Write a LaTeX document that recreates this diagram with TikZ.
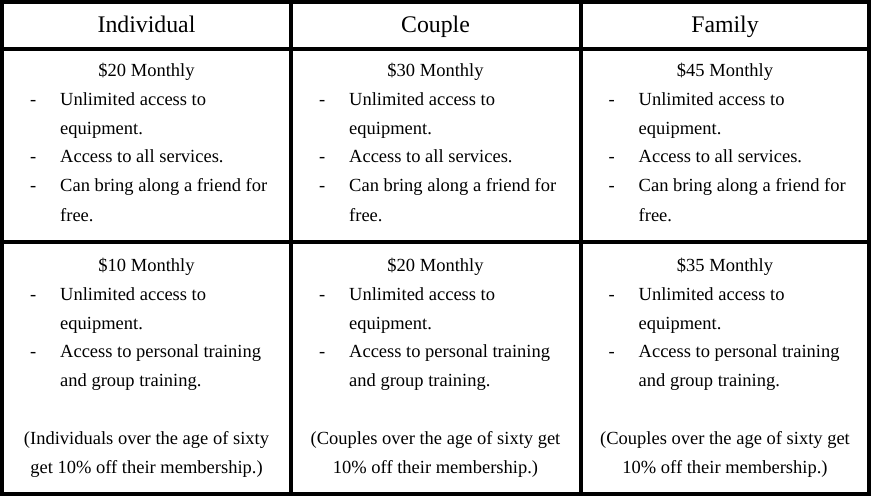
\documentclass[tikz,border=0pt]{standalone}
\usepackage{fontspec}
\setmainfont{Liberation Serif}
\newcommand\dashline[4]{%
  \node[bt, anchor=base west] (#1d) at ({#2+28},#3) {-};
  \node[bt, anchor=base west] (#1t) at ({#2+58},#3) {#4};}
\newcommand\plainline[4]{\node[bt, anchor=base west] (#1) at ({#2+58},#3) {#4};}
\newcommand\midline[4]{\node[bt, anchor=base] (#1) at ({#2+144.5},#3) {#4};}
\newcommand\uppercell[3]{%
  \midline{#1p}{#2}{77}{#3}
  \dashline{#1a}{#2}{106}{Unlimited access to}
  \plainline{#1b}{#2}{135}{equipment.}
  \dashline{#1c}{#2}{163}{Access to all services.}
  \dashline{#1e}{#2}{192}{Can bring along a friend for}
  \plainline{#1f}{#2}{221}{free.}}
\newcommand\lowercell[5]{%
  \midline{#1p}{#2}{271}{#3}
  \dashline{#1a}{#2}{300}{Unlimited access to}
  \plainline{#1b}{#2}{329}{equipment.}
  \dashline{#1c}{#2}{357}{Access to personal training}
  \plainline{#1e}{#2}{386}{and group training.}
  \midline{#1f}{#2}{444}{#4}
  \midline{#1g}{#2}{473}{#5}}
\begin{document}
\begin{tikzpicture}[x=1pt,y=-1pt,
  grid/.style={line width=4pt},
  hd/.style={inner sep=0pt, font=\fontsize{23.8}{28}\selectfont},
  bt/.style={inner sep=0pt, font=\fontsize{18.5}{29}\selectfont}]
\useasboundingbox (0,0) rectangle (872,497);
\draw[grid] (2,2) rectangle (869,494);
\draw[grid] (291,2) -- (291,494);
\draw[grid] (580.5,2) -- (580.5,494);
\draw[grid] (2,49.5) -- (869,49.5);
\draw[grid] (2,242) -- (869,242);
\node[hd, anchor=base] (h1) at (146.5,33) {Individual};
\node[hd, anchor=base] (h2) at (435.5,33) {Couple};
\node[hd, anchor=base] (h3) at (725,33) {Family};
\uppercell{ua}{2}{\$20 Monthly}
\uppercell{ub}{291}{\$30 Monthly}
\uppercell{uc}{580.5}{\$45 Monthly}
\lowercell{la}{2}{\$10 Monthly}{(Individuals over the age of sixty}{get 10\% off their membership.)}
\lowercell{lb}{291}{\$20 Monthly}{(Couples over the age of sixty get}{10\% off their membership.)}
\lowercell{lc}{580.5}{\$35 Monthly}{(Couples over the age of sixty get}{10\% off their membership.)}
\end{tikzpicture}
\end{document}
